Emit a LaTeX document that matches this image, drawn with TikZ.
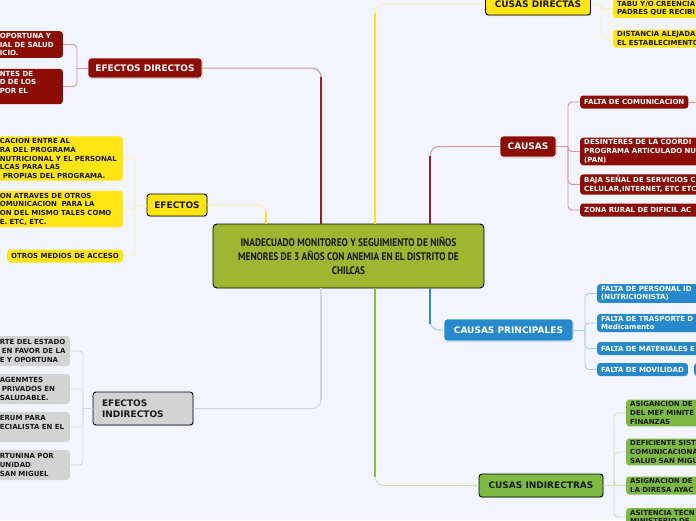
\documentclass[tikz,border=0pt]{standalone}
\usepackage{fontspec}
\setmainfont{DejaVu Sans}
\newfontfamily\titlefont[FakeStretch=0.85]{PT Sans}
\usepackage{tikz}
\usetikzlibrary{positioning,shadows}

\definecolor{cBg}{RGB}{242,245,253}
\definecolor{cRed}{RGB}{139,13,5}
\definecolor{cRedLn}{RGB}{158,32,28}
\definecolor{cRedLt}{RGB}{214,150,150}
\definecolor{cYel}{RGB}{255,229,20}
\definecolor{cYelLn}{RGB}{255,226,40}
\definecolor{cYelLt}{RGB}{255,240,170}
\definecolor{cGray}{RGB}{211,211,211}
\definecolor{cGrayLn}{RGB}{214,215,222}
\definecolor{cBlue}{RGB}{38,137,204}
\definecolor{cBlueLn}{RGB}{45,140,210}
\definecolor{cBlueLt}{RGB}{168,204,235}
\definecolor{cGrn}{RGB}{125,186,66}
\definecolor{cGrnLn}{RGB}{135,190,75}
\definecolor{cGrnLt}{RGB}{200,226,170}
\definecolor{cOlive}{RGB}{158,182,48}
\definecolor{cInk}{RGB}{25,25,25}

\begin{document}
\begin{tikzpicture}[x=1pt, y=-1pt,
  font=\fontsize{7}{8.7}\selectfont\bfseries,
  shad/.style={drop shadow={shadow xshift=0.6pt, shadow yshift=-1.2pt, opacity=0.3}},
  hub/.style={rounded corners=3pt, inner sep=0pt, shad,
              font=\fontsize{9}{11}\selectfont\bfseries},
  hubW/.style={hub, draw=white, line width=0.8pt, fill=#1, text=white},
  hubK/.style={hub, draw=black, line width=0.9pt, fill=#1, text=cInk},
  leaf/.style={rounded corners=3pt, inner xsep=4pt, inner ysep=2pt,
               minimum height=13pt, align=left},
  leafW/.style={leaf, fill=#1, text=white},
  leafK/.style={leaf, fill=#1, text=cInk},
  trunk/.style={line width=2pt, rounded corners=9pt, shorten >=9pt},
  limb/.style={line width=1pt, rounded corners=9pt},
  twig/.style={line width=0.9pt, rounded corners=4pt}]

  \fill[cBg] (0,0) rectangle (696,520);
  \useasboundingbox (0,0) rectangle (696,520);

  % central topic
  \node[draw=black, line width=0.9pt, fill=cOlive, rounded corners=4pt,
        minimum width=271pt, minimum height=64pt, align=center, text=cInk,
        font=\titlefont\fontsize{11}{14}\selectfont\bfseries] (cen) at (348.5,256)
        {INADECUADO MONITOREO Y SEGUIMIENTO DE NIÑOS\\MENORES DE 3 AÑOS CON ANEMIA EN EL DISTRITO DE\\CHILCAS};

  \coordinate (xl) at (266,0);
  \coordinate (xm) at (321,0);
  \coordinate (xn) at (375,0);
  \coordinate (xr) at (430,0);

  % main branches
  \node[hubW=cRed, minimum width=114pt, minimum height=20pt] (edir) at (145,68) {EFECTOS DIRECTOS};
  \node[hubK=cYel, minimum width=60pt, minimum height=22pt] (efe) at (177,205) {EFECTOS};
  \node[hubK=cGray, minimum width=100pt, minimum height=33pt, text width=82pt,
        inner xsep=9pt, align=left] (ei) at (143,408.5) {EFECTOS\\INDIRECTOS};
  \node[hubK=cYel, minimum width=105pt, minimum height=22pt] (cd) at (538,4) {CUSAS DIRECTAS};
  \node[hubW=cRed, minimum width=56pt, minimum height=21pt] (cau) at (528,146.5) {CAUSAS};
  \node[hubW=cBlue, minimum width=129pt, minimum height=22pt] (cp) at (508.5,330) {CAUSAS PRINCIPALES};
  \node[hubK=cGrn, minimum width=124pt, minimum height=23pt] (ci) at (541,485.5) {CUSAS INDIRECTRAS};

  % leaves, left side
  \node[leafW=cRed, text width=59pt, anchor=east] (edA) at (63,44.5) {OPORTUNA Y\\IAL DE SALUD\\ICIO.};
  \node[leafW=cRed, text width=59pt, anchor=east] (edB) at (63,86.5) {NTES DE\\D DE LOS\\POR EL\\ \mbox{}};

  \node[leafK=cYel, text width=119pt, anchor=east] (efA) at (123,158.5)
    {CACION ENTRE AL\\RA DEL PROGRAMA\\NUTRICIONAL Y EL PERSONAL\\LCAS PARA LAS\\\hspace*{3pt}PROPIAS DEL PROGRAMA.};
  \node[leafK=cYel, text width=119pt, anchor=east] (efB) at (123,209)
    {ON ATRAVES DE OTROS\\OMUNICACION\ \ PARA LA\\ON DEL MISMO TALES COMO\\E. ETC, ETC.};
  \node[leafK=cYel, anchor=east] (efC) at (123,256) {OTROS MEDIOS DE ACCESO};

  \node[leafK=cGray, text width=66pt, minimum height=30pt, anchor=east] (eiA) at (70,351)
    {RTE DEL ESTADO\\\hspace*{2pt}EN FAVOR DE LA\\E Y OPORTUNA};
  \node[leafK=cGray, text width=66pt, minimum height=30pt, anchor=east] (eiB) at (70,389)
    {AGENMTES\\\hspace*{2pt}PRIVADOS EN\\SALUDABLE.};
  \node[leafK=cGray, text width=66pt, minimum height=30pt, anchor=east] (eiC) at (70,427)
    {ERUM PARA\\ECIALISTA EN EL\\ \mbox{}};
  \node[leafK=cGray, text width=66pt, minimum height=30pt, anchor=east] (eiD) at (70,465)
    {RTUNINA POR\\UNIDAD\\SAN MIGUEL};

  % leaves, right side
  \node[leafK=cYel, text width=100pt, anchor=west] (cdA) at (613,8.5) {TABU Y/O CREENCIA\\PADRES QUE RECIBI};
  \node[leafK=cYel, text width=100pt, anchor=west] (cdB) at (613,38.5) {DISTANCIA ALEJADA\\EL ESTABLECIMENTO};

  \node[leafW=cRed, anchor=west] (caA) at (580,102) {FALTA DE COMUNICACION};
  \node[leafW=cRed, text width=125pt, anchor=west] (caB) at (580,151.5)
    {DESINTERES DE LA COORDI\\PROGRAMA ARTICULADO NU\\(PAN)};
  \node[leafW=cRed, text width=125pt, anchor=west] (caC) at (580,184.5)
    {BAJA SEÑAL DE SERVICIOS C\\CELULAR,INTERNET, ETC ETC};
  \node[leafW=cRed, text width=125pt, anchor=west] (caD) at (580,210) {ZONA RURAL DE DIFICIL AC};
  \coordinate (caX) at (700,102);

  \node[leafW=cBlue, text width=105pt, anchor=west] (cpA) at (597,293.5) {FALTA DE PERSONAL ID\\(NUTRICIONISTA)};
  \node[leafW=cBlue, text width=105pt, anchor=west] (cpB) at (597,323) {FALTA DE TRASPORTE D\\Medicamento};
  \node[leafW=cBlue, text width=105pt, anchor=west] (cpC) at (597,348.5) {FALTA DE MATERIALES E};
  \node[leafW=cBlue, anchor=west] (cpD) at (597,369.5) {FALTA DE MOVILIDAD};
  \node[leafW=cBlue, minimum width=14pt, anchor=west] (cpE) at (694,369.5) {};

  \node[leafK=cGrn, text width=80pt, anchor=west] (ciA) at (626,413) {ASIGANCION DE\\DEL MEF MINITE\\FINANZAS};
  \node[leafK=cGrn, text width=80pt, anchor=west] (ciB) at (626,452) {DEFICIENTE SIST\\COMUNICACIONA\\SALUD SAN MIGU};
  \node[leafK=cGrn, text width=80pt, anchor=west] (ciC) at (626,485.5) {ASIGNACION DE\\LA DIRESA AYAC};
  \node[leafK=cGrn, text width=80pt, anchor=west] (ciD) at (626,517) {ASITENCIA TECN\\MINISTERIO DE};

  % branches from the centre
  \draw[limb, cRedLt] (cen.north -| xm) |- (edir.east);
  \draw[trunk, cRedLn] (cen.north -| xm) -- (edir.east -| xm);
  \draw[limb, cYelLt] (cen.north -| xl) |- (efe.east);
  \draw[trunk, cYelLn, shorten >=6pt] (cen.north -| xl) -- (efe.east -| xl);
  \draw[limb, cYelLt] (cen.north -| xn) |- (cd.west);
  \draw[trunk, cYelLn] (cen.north -| xn) -- (cd.west -| xn);
  \draw[limb, cRedLt] (cen.north -| xr) |- (cau.west);
  \draw[trunk, cRedLn] (cen.north -| xr) -- (cau.west -| xr);
  \draw[limb, cGrayLn] (cen.south -| xm) |- (ei.east);
  \draw[trunk, cGrayLn] (cen.south -| xm) -- (ei.east -| xm);
  \draw[limb, cGrnLt] (cen.south -| xn) |- (ci.west);
  \draw[trunk, cGrnLn] (cen.south -| xn) -- (ci.west -| xn);
  \draw[limb, cBlueLt] (cen.south -| xr) |- (cp.west);
  \draw[trunk, cBlueLn, shorten >=6pt] (cen.south -| xr) -- (cp.west -| xr);

  % brackets to the leaves
  \coordinate (jed) at (77,68);
  \coordinate (jef) at (135,205);
  \coordinate (jei) at (83,408.5);
  \coordinate (jcd) at (601,4);
  \coordinate (jca) at (568,146.5);
  \coordinate (jcp) at (585,330);
  \coordinate (jci) at (614,485.5);

  \draw[twig, cRedLt] (edir.west) -- (jed);
  \foreach \n in {edA,edB} \draw[twig, cRedLt] (jed) |- (\n.east);
  \draw[twig, cYelLt] (efe.west) -- (jef);
  \foreach \n in {efA,efB,efC} \draw[twig, cYelLt] (jef) |- (\n.east);
  \draw[twig, cGrayLn] (ei.west) -- (jei);
  \foreach \n in {eiA,eiB,eiC,eiD} \draw[twig, cGrayLn] (jei) |- (\n.east);

  \draw[twig, cYelLt] (cd.east) -- (jcd);
  \foreach \n in {cdA,cdB} \draw[twig, cYelLt] (jcd) |- (\n.west);
  \draw[twig, cRedLt] (cau.east) -- (jca);
  \foreach \n in {caA,caB,caC,caD} \draw[twig, cRedLt] (jca) |- (\n.west);
  \draw[twig, cRedLt] (caA.east) -- (caX);
  \draw[twig, cBlueLt] (cp.east) -- (jcp);
  \foreach \n in {cpA,cpB,cpC,cpD} \draw[twig, cBlueLt] (jcp) |- (\n.west);
  \draw[twig, cGrnLt] (ci.east) -- (jci);
  \foreach \n in {ciA,ciB,ciC,ciD} \draw[twig, cGrnLt] (jci) |- (\n.west);
\end{tikzpicture}
\end{document}
